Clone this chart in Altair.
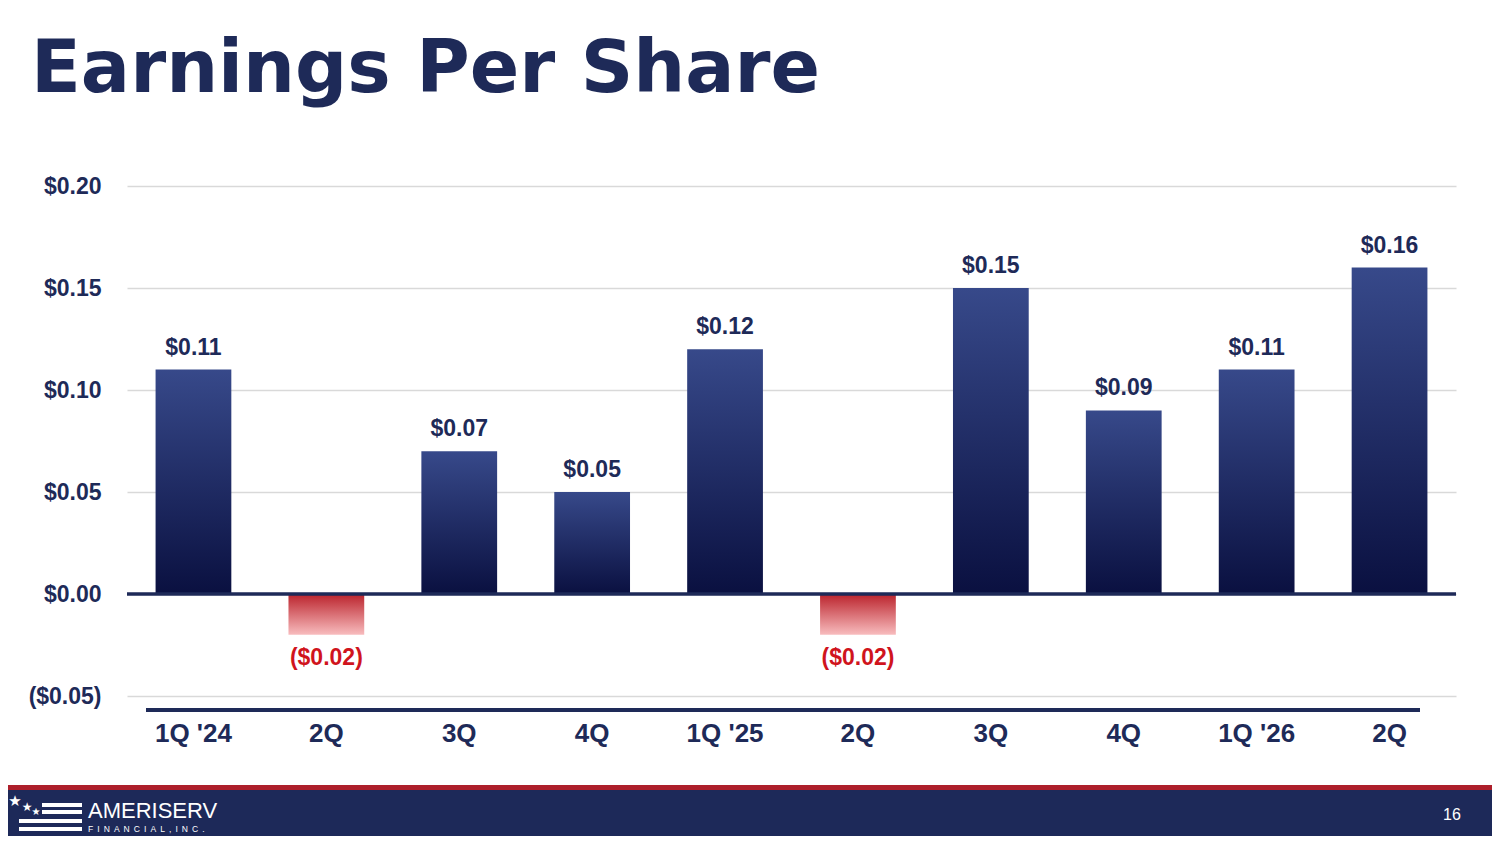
import json
import pandas as pd
import altair as alt

# data
quarters = ["1Q '24", "2Q", "3Q", "4Q", "1Q '25", "2Q", "3Q", "4Q", "1Q '26", "2Q"]
eps = [0.11, -0.02, 0.07, 0.05, 0.12, -0.02, 0.15, 0.09, 0.11, 0.16]
y_ticks = [-0.05, 0.0, 0.05, 0.10, 0.15, 0.20]
title_text = "Earnings Per Share"
page_no = "16"

navy = "#1e2a58"
red = "#d0141d"
font = "Liberation Sans"

df = pd.DataFrame({"idx": list(range(len(quarters))), "eps": eps})
df["label"] = [("($%.2f)" % -v) if v < 0 else ("$%.2f" % v) for v in eps]

navy_grad = {"gradient": "linear", "x1": 0, "y1": 0, "x2": 0, "y2": 1,
             "stops": [{"offset": 0, "color": "#37498a"}, {"offset": 1, "color": "#0a1040"}]}
red_grad = {"gradient": "linear", "x1": 0, "y1": 0, "x2": 0, "y2": 1,
            "stops": [{"offset": 0, "color": "#bb232c"}, {"offset": 1, "color": "#f8bcbe"}]}

x = alt.X("idx:O", title=None,
          scale=alt.Scale(paddingInner=0.43, paddingOuter=0.215),
          axis=alt.Axis(labelExpr=json.dumps(quarters) + "[datum.value]", labelAngle=0,
                        labelFont=font, labelFontSize=26, labelFontWeight="bold",
                        labelColor=navy, labelPadding=24, ticks=False, domain=False, grid=False))
y = alt.Y("eps:Q", title=None,
          scale=alt.Scale(domain=[-0.05, 0.20], nice=False),
          axis=alt.Axis(values=y_ticks,
                        labelExpr="datum.value < 0 ? '($' + format(-datum.value, '.2f') + ')' : '$' + format(datum.value, '.2f')",
                        labelFont=font, labelFontSize=23, labelFontWeight="bold",
                        labelColor=navy, labelPadding=26, ticks=False, domain=False,
                        gridColor="#d9d9d9", gridWidth=1.5))

base = alt.Chart(df)
pos_bars = base.transform_filter("datum.eps >= 0").mark_bar(color=navy_grad).encode(x=x, y=y, y2=alt.datum(0))
neg_bars = base.transform_filter("datum.eps < 0").mark_bar(color=red_grad).encode(x=x, y=y, y2=alt.datum(0))
pos_text = base.transform_filter("datum.eps >= 0").mark_text(
    font=font, fontSize=23, fontWeight="bold", color=navy, baseline="middle", dy=-22
).encode(x=x, y=y, text="label:N")
neg_text = base.transform_filter("datum.eps < 0").mark_text(
    font=font, fontSize=23, fontWeight="bold", color=red, baseline="middle", dy=23
).encode(x=x, y=y, text="label:N")

zero = alt.Chart(pd.DataFrame({"z": [0]})).mark_rule(color=navy, strokeWidth=3.5).encode(y="z:Q")
bottom_line = alt.Chart(pd.DataFrame({"z": [0]})).mark_rule(color=navy, strokeWidth=4).encode(
    x=alt.value(19), x2=alt.value(1293), y=alt.value(524))

one = pd.DataFrame({"t": [0]})
title = alt.Chart(pd.DataFrame({"t": [title_text]})).mark_text(
    font="DejaVu Sans", fontSize=73, fontWeight="bold", color=navy, align="left", baseline="alphabetic"
).encode(text="t:N", x=alt.value(-96), y=alt.value(-94))

# footer band
footer_red = alt.Chart(one).mark_rect(color="#ad1f2b").encode(
    x=alt.value(-140), x2=alt.value(1400), y=alt.value(599), y2=alt.value(605))
footer_navy = alt.Chart(one).mark_rect(color="#1d2959").encode(
    x=alt.value(-140), x2=alt.value(1400), y=alt.value(604), y2=alt.value(700))
page = alt.Chart(pd.DataFrame({"t": [page_no]})).mark_text(
    font=font, fontSize=16, color="white", align="center", baseline="middle"
).encode(text="t:N", x=alt.value(1325), y=alt.value(629))

# logo: stripes, stars and name
stripes = [
    alt.Chart(one).mark_rule(color="white", strokeWidth=4).encode(
        x=alt.value(x1), x2=alt.value(-45), y=alt.value(yy))
    for x1, yy in [(-85, 619), (-85, 626), (-108, 635), (-108, 643)]
]
stars = [
    alt.Chart(pd.DataFrame({"t": ["★"]})).mark_text(
        color="white", fontSize=s, font="DejaVu Sans", baseline="middle", align="center"
    ).encode(text="t:N", x=alt.value(xx), y=alt.value(yy))
    for xx, yy, s in [(-112, 615, 15), (-100, 621, 12), (-91, 626, 10)]
]
logo_name = alt.Chart(pd.DataFrame({"t": ["AMERISERV"]})).mark_text(
    font=font, fontSize=22, color="white", align="left", baseline="alphabetic"
).encode(text="t:N", x=alt.value(-39), y=alt.value(632))
sub_text = "\u00a0\u2009".join("FINANCIAL,INC.")
logo_sub = alt.Chart(pd.DataFrame({"t": [sub_text]})).mark_text(
    font=font, fontSize=8.5, color="white", align="left", baseline="alphabetic"
).encode(text="t:N", x=alt.value(-39), y=alt.value(646))

chart = alt.layer(
    pos_bars, neg_bars, zero, pos_text, neg_text, bottom_line, title,
    footer_red, footer_navy, page, *stripes, *stars, logo_name, logo_sub
).properties(
    width=1329, height=510,
    autosize=alt.AutoSizeParams(type="none"),
    padding={"left": 119, "top": 178, "right": 36, "bottom": 140},
    background="white",
).configure_view(stroke=None)

chart.save("out.html", embed_options={"renderer": "svg", "actions": False})
